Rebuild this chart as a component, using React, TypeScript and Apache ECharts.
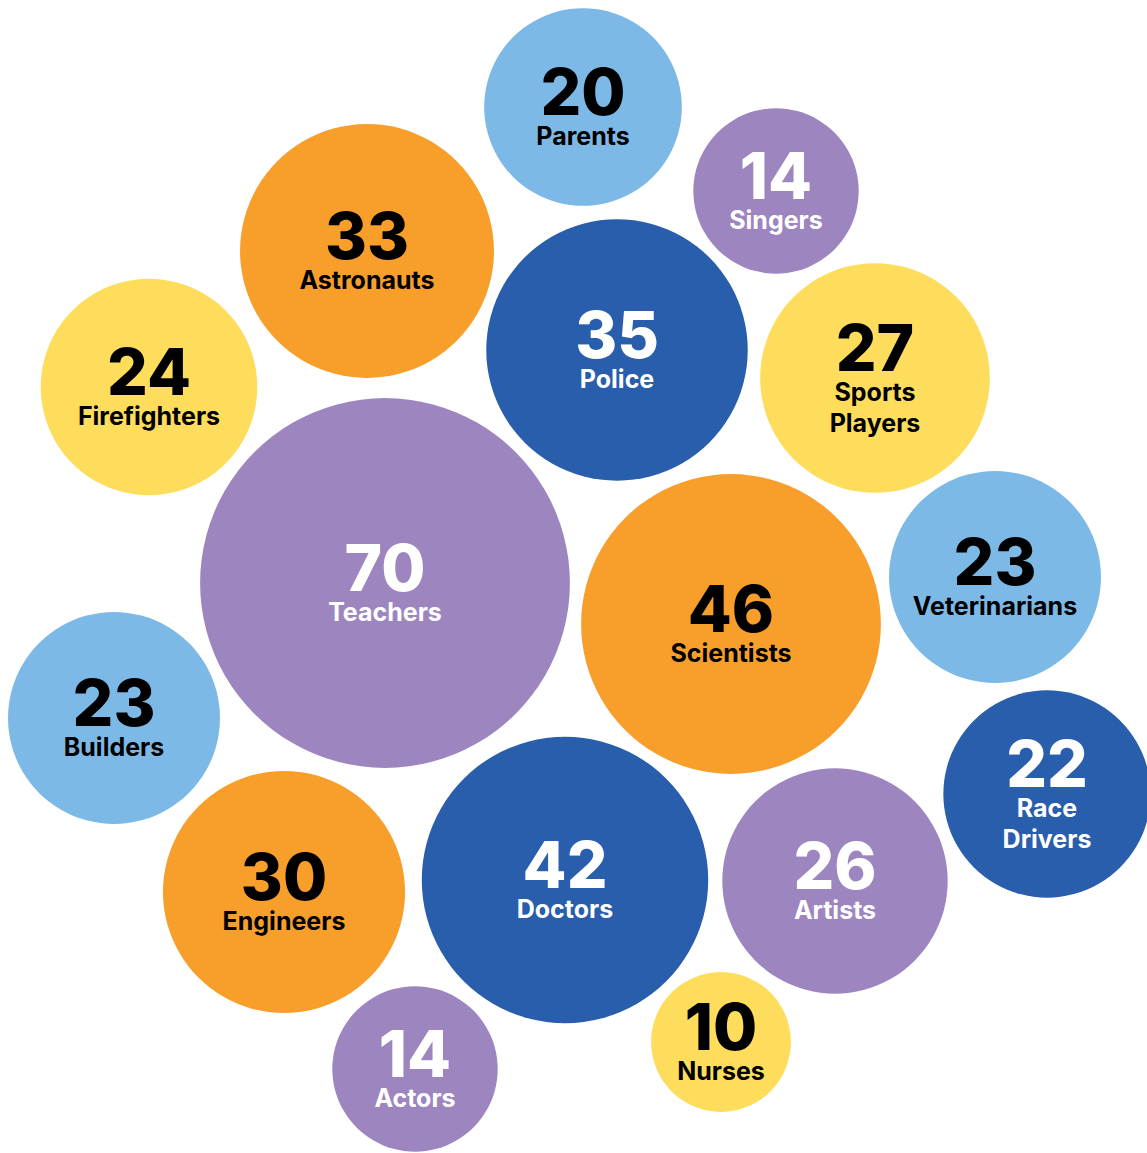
import React, { useEffect, useRef } from "react";
import * as echarts from "echarts";

// Data
const categories = [
  "Parents", "Singers", "Astronauts", "Police", "Firefighters", "Sports\nPlayers",
  "Teachers", "Scientists", "Veterinarians", "Builders", "Race\nDrivers",
  "Engineers", "Doctors", "Artists", "Actors", "Nurses",
];
const values = [20, 14, 33, 35, 24, 27, 70, 46, 23, 23, 22, 30, 42, 26, 14, 10];
// colour group of each bubble (index into palette)
const colorGroups = [0, 1, 2, 3, 4, 4, 1, 2, 0, 0, 3, 2, 3, 1, 1, 4];

// Layout (bubble centres in pixel space of the drawing)
const bubbleCenters: [number, number][] = [
  [583, 107], [776, 191], [367, 251], [617, 350], [149, 387], [875, 378],
  [385, 583], [731, 624], [995, 577], [114, 718], [1047, 794],
  [284, 892], [565, 880], [835, 881], [415, 1069], [721, 1042],
];

const palette = ["#7DB9E6", "#9D86BF", "#F79E2B", "#285EAB", "#FDDD5B"];
const textColors = ["#000000", "#FFFFFF", "#000000", "#FFFFFF", "#000000"];

const W = 1147;
const H = 1153;

export default function App() {
  const ref = useRef<HTMLDivElement>(null);
  useEffect(() => {
    if (!ref.current) return;
    const chart = echarts.init(ref.current, undefined, { renderer: "svg" });
    const data = categories.map((name, i) => {
      const g = colorGroups[i];
      const twoLine = name.indexOf("\n") >= 0;
      return {
        name,
        value: [bubbleCenters[i][0], bubbleCenters[i][1], values[i]],
        itemStyle: { color: palette[g], opacity: 1 },
        label: { color: textColors[g], offset: [0, twoLine ? 0 : -3] },
      };
    });
    chart.setOption({
      animation: false,
      backgroundColor: "#FFFFFF",
      grid: { left: 0, right: 0, top: 0, bottom: 0 },
      xAxis: { type: "value", min: 0, max: W, show: false },
      yAxis: { type: "value", min: 0, max: H, inverse: true, show: false },
      series: [
        {
          type: "scatter",
          data,
          symbol: "circle",
          symbolSize: (v: number[]) => 44.2 * Math.sqrt(v[2]),
          label: {
            show: true,
            position: "inside",
            fontFamily: "Inter",
            formatter: (p: any) => {
              const lines = String(p.name)
                .split("\n")
                .map((l: string, k: number) => (k === 0 ? `{name|${l}}` : `{name2|${l}}`))
                .join("\n");
              return `{num|${p.value[2]}}\n${lines}`;
            },
            rich: {
              num: { fontSize: 64, fontWeight: 800, lineHeight: 64, fontFamily: "Inter", align: "center" },
              name: { fontSize: 25, fontWeight: 700, lineHeight: 25, fontFamily: "Inter", align: "center" },
              name2: { fontSize: 25, fontWeight: 700, lineHeight: 36, fontFamily: "Inter", align: "center" },
            },
          },
          emphasis: { disabled: true },
        },
      ],
    });
    return () => chart.dispose();
  }, []);
  return (
    <div
      ref={ref}
      style={{ position: "fixed", left: 0, top: 0, width: W, height: H }}
    />
  );
}
